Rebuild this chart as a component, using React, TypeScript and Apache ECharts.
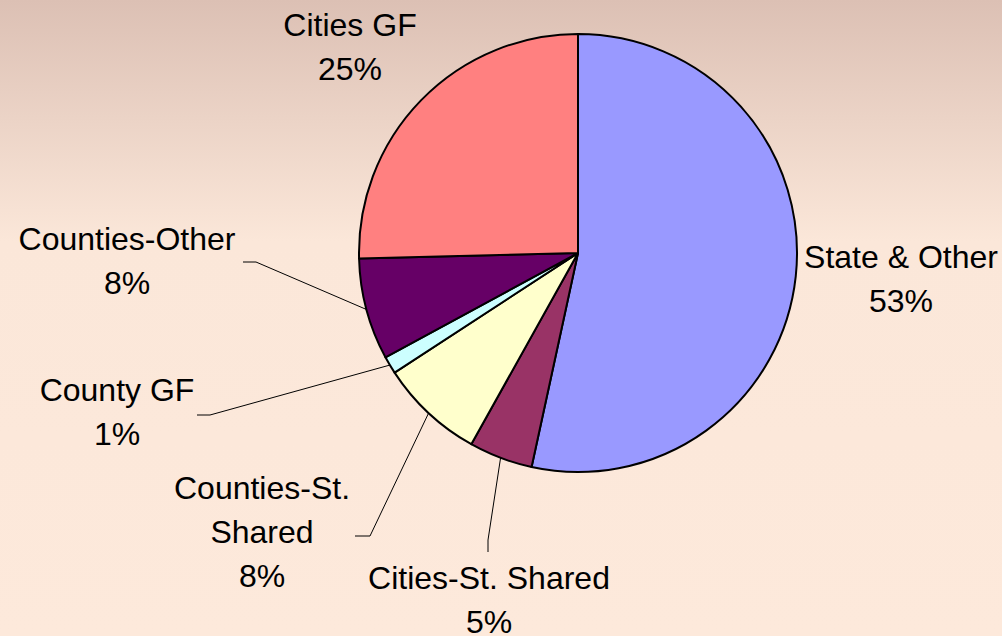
import React, { useEffect, useRef } from "react";
import * as echarts from "echarts";

const categories = [
  "State & Other",
  "Cities-St. Shared",
  "Counties-St. Shared",
  "County GF",
  "Counties-Other",
  "Cities GF",
];
const values = [53.4, 4.7, 7.7, 1.3, 7.5, 25.4];
const colors = ["#9999FF", "#993366", "#FFFFCC", "#CCFFFF", "#660066", "#FF8080"];
const displayNames: Record<string, string> = {
  "Counties-St. Shared": "Counties-St.\nShared",
};

// label centre positions and leader-line elbows (annotation layout)
const labelPos: Record<string, [number, number]> = {
  "State & Other": [901, 279],
  "Cities-St. Shared": [489, 600],
  "Counties-St. Shared": [262, 532],
  "County GF": [117, 412],
  "Counties-Other": [127, 261],
  "Cities GF": [350, 47],
};
const leaderElbows: Record<string, [number, number][]> = {
  "Cities-St. Shared": [[488, 540], [488, 552]],
  "Counties-St. Shared": [[370, 536], [355, 536]],
  "County GF": [[210, 415], [197, 415]],
  "Counties-Other": [[256, 262], [243, 262]],
};

export default function App() {
  const ref = useRef<HTMLDivElement>(null);
  useEffect(() => {
    document.body.style.margin = "0";
    const chart = echarts.init(ref.current!, null, { renderer: "svg" });
    const data = categories.map((name, i) => ({
      name,
      value: values[i],
      itemStyle: { color: colors[i] },
      labelLine: { show: !!leaderElbows[name] },
    }));
    chart.setOption({
      animation: false,
      backgroundColor: {
        type: "linear",
        x: 0,
        y: 0,
        x2: 0,
        y2: 1,
        colorStops: [
          { offset: 0, color: "#dcc0b4" },
          { offset: 0.38, color: "#fbe7d9" },
          { offset: 1, color: "#fde9db" },
        ],
      },
      series: [
        {
          type: "pie",
          center: [578, 253],
          radius: 219,
          startAngle: 90,
          clockwise: true,
          avoidLabelOverlap: false,
          silent: true,
          emphasis: { disabled: true },
          itemStyle: { borderColor: "#000", borderWidth: 2 },
          label: {
            show: true,
            position: "outside",
            color: "#000",
            fontFamily: "Liberation Sans, Arial, sans-serif",
            fontSize: 32,
            lineHeight: 44,
            align: "center",
            formatter: (p: any) =>
              (displayNames[p.name] || p.name) + "\n" + Math.round(p.percent) + "%",
          },
          labelLine: {
            show: true,
            length: 10,
            length2: 10,
            lineStyle: { color: "#000", width: 1 },
          },
          labelLayout: (params: any) => {
            const name = categories[params.dataIndex];
            const pos = labelPos[name];
            const res: any = {
              x: pos[0],
              y: pos[1],
              align: "center",
              verticalAlign: "middle",
            };
            const elbows = leaderElbows[name];
            if (elbows && params.labelLinePoints) {
              res.labelLinePoints = [params.labelLinePoints[0], ...elbows];
            }
            return res;
          },
          data,
        },
      ],
    });
    return () => chart.dispose();
  }, []);
  return <div ref={ref} style={{ width: 1002, height: 636 }} />;
}
